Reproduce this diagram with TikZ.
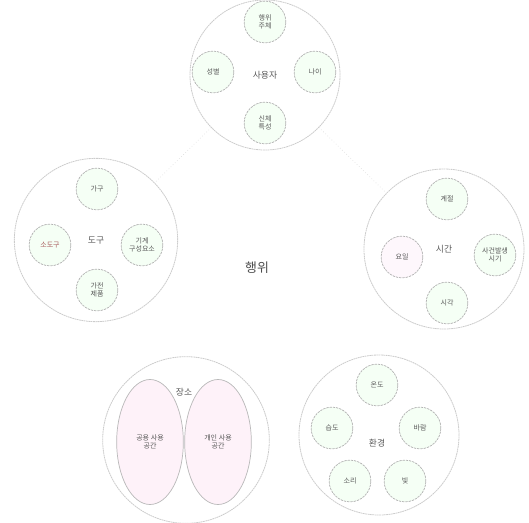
\documentclass[tikz,border=0pt]{standalone}
\usepackage{fontspec}
\setmainfont{Noto Sans CJK KR}
\usetikzlibrary{shapes.geometric}

\begin{document}
\begin{tikzpicture}[
  x=0.03cm, y=-0.03cm,
  group/.style={circle, draw=gray!40, line width=0.7pt,
                dash pattern=on 1.5pt off 0.5pt, align=center,
                font=\fontsize{7.5}{9}\selectfont, text=gray!70!black},
  item/.style={circle, draw=gray!60, line width=0.6pt,
               dash pattern=on 2pt off 0.8pt, fill=green!4,
               minimum size=1.25cm, inner sep=0pt, align=center,
               font=\fontsize{6}{7}\selectfont, text=gray!70!black},
  space/.style={ellipse, draw=gray!55, line width=0.6pt, fill=magenta!5,
                minimum width=2cm, minimum height=3.75cm, inner sep=0pt,
                align=center, font=\fontsize{6}{7}\selectfont,
                text=gray!70!black},
  link/.style={draw=gray!30, line width=0.5pt, dotted},
]
  \useasboundingbox (0,0) rectangle (529,522);

  % 사용자
  \node[group, minimum size=4.5cm] (user) at (265,75) {사용자};
  \node[item] (actor) at (265,22) {행위\\주체};
  \node[item] (sex) at (213,72) {성별};
  \node[item] (age) at (315,72) {나이};
  \node[item] (body) at (265,123) {신체\\특성};

  % 도구
  \node[group, minimum size=4.9cm] (tool) at (96,240) {도구};
  \node[item] (furn) at (97,189) {가구};
  \node[item, text=red!30!gray] (prop) at (50,245) {소도구};
  \node[item] (mach) at (142,245) {기계\\구성요소};
  \node[item] (appl) at (97,290) {가전\\제품};

  % 시간
  \node[group, minimum size=4.8cm] (time) at (444,249) {시간};
  \node[item] (season) at (447,199) {계절};
  \node[item, fill=magenta!3] (day) at (402,257) {요일};
  \node[item] (event) at (495,255) {사건발생\\시기};
  \node[item] (hour) at (447,303) {시각};

  % 장소
  \node[group, minimum size=5cm] (place) at (186,440) {};
  \node[text=gray!70!black, font=\fontsize{7.5}{9}\selectfont] (placelbl) at (184,392) {장소};
  \node[space] (public) at (150,442) {공용 사용\\공간};
  \node[space] (private) at (218,442) {개인 사용\\공간};

  % 환경
  \node[group, minimum size=4.8cm] (env) at (379,435) {};
  \node[text=gray!70!black, font=\fontsize{7.5}{9}\selectfont] (envlbl) at (377,443) {환경};
  \node[item] (temp) at (377,385) {온도};
  \node[item] (humid) at (332,428) {습도};
  \node[item] (wind) at (420,428) {바람};
  \node[item] (sound) at (350,481) {소리};
  \node[item] (light) at (405,481) {빛};

  % 행위
  \node[text=gray!60!black, font=\fontsize{11}{13}\selectfont] (act) at (257,268) {행위};

  % links
  \draw[link] (user) -- (tool);
  \draw[link] (user) -- (time);
\end{tikzpicture}
\end{document}
